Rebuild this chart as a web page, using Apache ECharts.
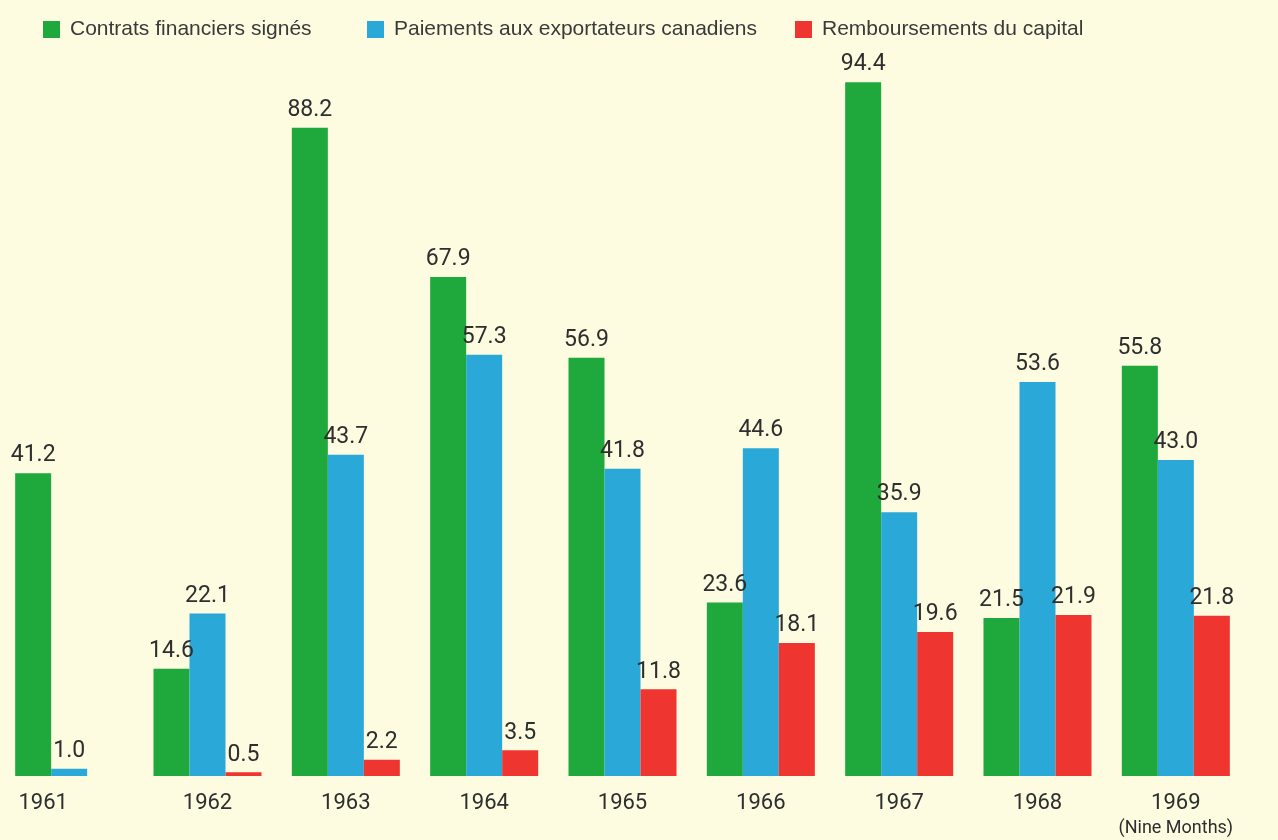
<!DOCTYPE html>
<html>
<head>
<meta charset="utf-8">
<script src="https://cdn.jsdelivr.net/npm/echarts@6/dist/echarts.min.js"></script>
<style>
  html, body { margin: 0; padding: 0; background: #fdfbe0; }
  #chart { width: 1278px; height: 840px; }
</style>
</head>
<body>
<div id="chart"></div>
<script>
// années
const years = ['1961', '1962', '1963', '1964', '1965', '1966', '1967', '1968', '1969'];
// millions de dollars
const contrats = [41.2, 14.6, 88.2, 67.9, 56.9, 23.6, 94.4, 21.5, 55.8];
const paiements = [1.0, 22.1, 43.7, 57.3, 41.8, 44.6, 35.9, 53.6, 43.0];
const remboursements = [null, 0.5, 2.2, 3.5, 11.8, 18.1, 19.6, 21.9, 21.8];

const seriesNames = ['Contrats financiers signés', 'Paiements aux exportateurs canadiens', 'Remboursements du capital'];
const colors = ['#1fa83c', '#2aa8d8', '#ee3530'];

const labelFont = 'Roboto, sans-serif';

const barLabel = {
  show: true,
  position: 'top',
  distance: 6,
  color: '#2e2e2e',
  fontFamily: labelFont,
  fontSize: 23,
  formatter: (p) => p.value.toFixed(1)
};

// une légende par série, comme sur l'original
const legendLeft = [38, 362, 790];
const legends = seriesNames.map((name, i) => ({
  left: legendLeft[i],
  top: 14,
  itemWidth: 17,
  itemHeight: 17,
  icon: 'rect',
  textStyle: {
    fontFamily: "'Liberation Sans', Arial, sans-serif",
    fontSize: 21,
    color: '#3a3a3a',
    padding: [0, 0, 0, 5]
  },
  data: [name]
}));

const chart = echarts.init(document.getElementById('chart'));

chart.setOption({
  backgroundColor: '#fdfbe0',
  animation: false,
  legend: legends,
  grid: {
    left: 0,
    right: 33,
    top: 41,
    bottom: 62,
    containLabel: false
  },
  xAxis: {
    type: 'category',
    data: years,
    axisLine: { show: false },
    axisTick: { show: false },
    axisLabel: {
      interval: 0,
      margin: 14,
      color: '#2e2e2e',
      fontFamily: labelFont,
      fontSize: 22,
      lineHeight: 26,
      formatter: (v) => {
        if (v === '1961') return '{first|1961}';
        if (v === '1969') return '1969\n{small|(Nine Months)}';
        return v;
      },
      rich: {
        first: { fontFamily: labelFont, fontSize: 22, color: '#2e2e2e', padding: [0, 52, 0, 0] },
        small: { fontFamily: labelFont, fontSize: 18, color: '#2e2e2e', lineHeight: 24 }
      }
    }
  },
  yAxis: {
    type: 'value',
    min: 0,
    max: 100,
    show: false,
    splitLine: { show: false }
  },
  series: [
    {
      name: seriesNames[0],
      type: 'bar',
      data: contrats,
      barWidth: 36,
      barGap: '0%',
      itemStyle: { color: colors[0] },
      label: barLabel
    },
    {
      name: seriesNames[1],
      type: 'bar',
      data: paiements,
      barWidth: 36,
      barGap: '0%',
      itemStyle: { color: colors[1] },
      label: barLabel
    },
    {
      name: seriesNames[2],
      type: 'bar',
      data: remboursements,
      barWidth: 36,
      barGap: '0%',
      itemStyle: { color: colors[2] },
      label: barLabel
    }
  ]
});
</script>
</body>
</html>
